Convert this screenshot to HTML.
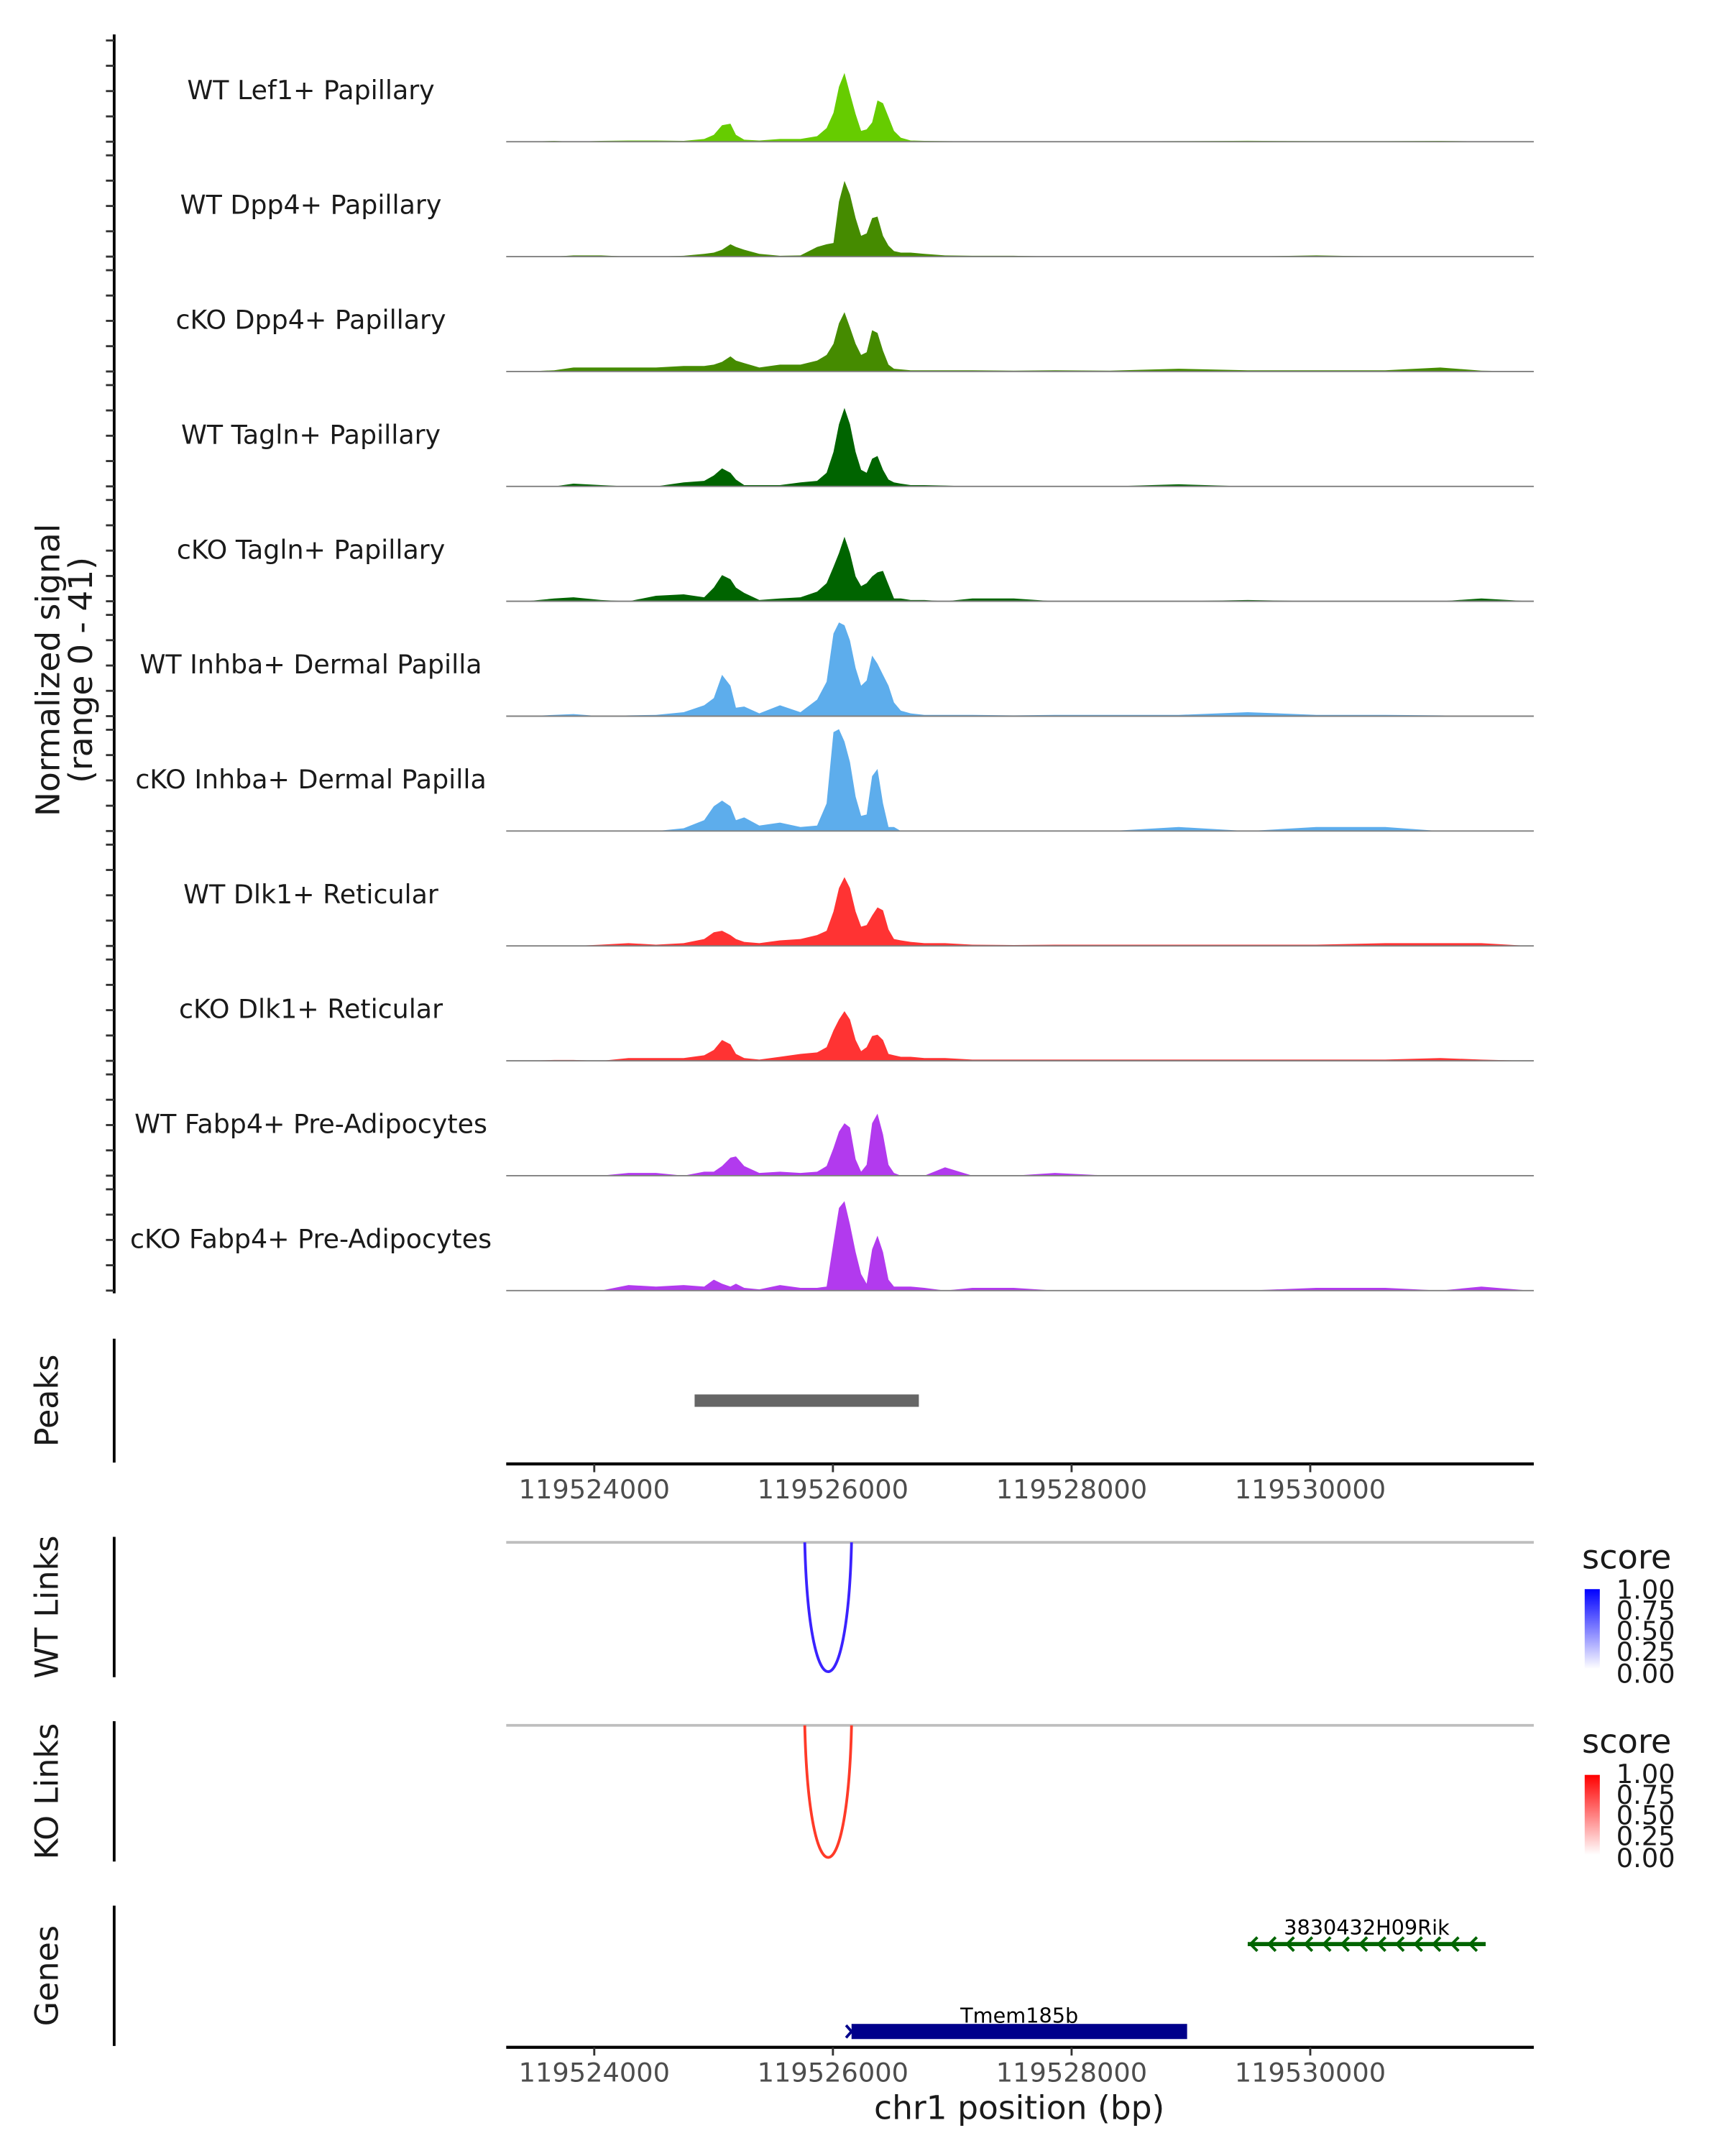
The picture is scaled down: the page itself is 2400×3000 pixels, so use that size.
<!DOCTYPE html>
<html><head><meta charset="utf-8"><style>
html,body{margin:0;padding:0;background:#fff;}
svg{display:block;}
text{font-family:"DejaVu Sans","Liberation Sans",sans-serif;}
</style></head>
<body>
<svg id="fig" width="2400" height="3000" viewBox="0 0 1254 1567" preserveAspectRatio="none" xmlns="http://www.w3.org/2000/svg">
  <g id="tracks"></g>
  <text transform="translate(43,487) rotate(-90)" text-anchor="middle" font-size="23.8" fill="#1a1a1a">Normalized signal</text>
  <text transform="translate(67,487) rotate(-90)" text-anchor="middle" font-size="23.8" fill="#1a1a1a">(range 0 - 41)</text>

  <text transform="translate(42,1018) rotate(-90)" text-anchor="middle" font-size="23.2" fill="#1a1a1a">Peaks</text>
  <line x1="83" y1="973" x2="83" y2="1063" stroke="#000" stroke-width="2"/>
  <g id="peaks"></g>
  <g id="xaxis1"></g>

  <text transform="translate(42,1168) rotate(-90)" text-anchor="middle" font-size="23.2" fill="#1a1a1a">WT Links</text>
  <line x1="83" y1="1117" x2="83" y2="1219" stroke="#000" stroke-width="2"/>
  <text transform="translate(42,1302) rotate(-90)" text-anchor="middle" font-size="23.2" fill="#1a1a1a">KO Links</text>
  <line x1="83" y1="1251" x2="83" y2="1353" stroke="#000" stroke-width="2"/>
  <g id="links"></g>

  <defs>
    <linearGradient id="gBlue" x1="0" y1="1" x2="0" y2="0"><stop offset="0" stop-color="#ffffff"/><stop offset="1" stop-color="#0000ff"/></linearGradient>
    <linearGradient id="gRed" x1="0" y1="1" x2="0" y2="0"><stop offset="0" stop-color="#ffffff"/><stop offset="1" stop-color="#ff0000"/></linearGradient>
  </defs>
  <g>
    <text x="1150" y="1140" font-size="24.2" fill="#1a1a1a">score</text>
    <rect x="1152" y="1155" width="11" height="58" fill="url(#gBlue)"/>
    <g font-size="19.2" fill="#1a1a1a"><text x="1175" y="1162">1.00</text><text x="1175" y="1177">0.75</text><text x="1175" y="1192">0.50</text><text x="1175" y="1207">0.25</text><text x="1175" y="1223">0.00</text></g>
  </g>
  <g>
    <text x="1150" y="1274" font-size="24.2" fill="#1a1a1a">score</text>
    <rect x="1152" y="1290" width="11" height="58" fill="url(#gRed)"/>
    <g font-size="19.2" fill="#1a1a1a"><text x="1175" y="1296">1.00</text><text x="1175" y="1311">0.75</text><text x="1175" y="1326">0.50</text><text x="1175" y="1341">0.25</text><text x="1175" y="1357">0.00</text></g>
  </g>

  <text transform="translate(42,1436) rotate(-90)" text-anchor="middle" font-size="23.2" fill="#1a1a1a">Genes</text>
  <line x1="83" y1="1385" x2="83" y2="1487" stroke="#000" stroke-width="2"/>
  <g id="genes"></g>
  <g id="xaxis2"></g>
  <text x="741" y="1540" text-anchor="middle" font-size="23.8" fill="#1a1a1a">chr1 position (bp)</text>
</svg>
<script>
// positions in kb relative to chr1:119,520,000
const positions = [3.423,3.665,3.826,4.057,4.287,4.518,4.749,4.921,5.002,5.071,5.141,5.187,5.256,5.383,5.556,5.728,5.867,5.947,6.005,6.051,6.097,6.143,6.190,6.236,6.282,6.328,6.374,6.420,6.466,6.512,6.570,6.651,6.766,6.939,7.169,7.515,7.861,8.322,8.898,9.475,10.051,10.628,11.089,11.434,11.839];
const trackNames = ["WT Lef1+ Papillary","WT Dpp4+ Papillary","cKO Dpp4+ Papillary","WT Tagln+ Papillary","cKO Tagln+ Papillary","WT Inhba+ Dermal Papilla","cKO Inhba+ Dermal Papilla","WT Dlk1+ Reticular","cKO Dlk1+ Reticular","WT Fabp4+ Pre-Adipocytes","cKO Fabp4+ Pre-Adipocytes"];
const trackColors = ["#66CC00","#458B00","#458B00","#006400","#006400","#5DADEC","#5DADEC","#FF3333","#FF3333","#B23AEE","#B23AEE"];
const sigWtLef1 = [0,0.3,0,0.3,0.5,0.5,0.3,1.1,2.7,6.5,7.1,2.7,0.8,0.5,1.1,1.1,2.2,5.4,11.4,21.7,27.2,19,10.9,4.3,4.9,7.6,16.3,15.2,9.8,4.3,1.6,0.5,0.3,0.2,0.1,0.1,0.1,0.1,0.2,0.4,0.2,0.2,0.3,0.1,0];
const sigWtDpp4 = [0,0,0.5,0.5,0,0,0.3,1.1,1.6,2.7,4.9,3.8,2.7,1.1,0.3,0.5,3.8,4.9,5.4,21.7,29.9,24.5,15.2,8.2,9.2,15.2,15.8,8.2,4.3,2.2,1.6,1.6,1.1,0.5,0.3,0.3,0,0,0,0,0.5,0,0,0,0];
const sigKoDpp4 = [0,0.5,1.6,1.6,1.6,1.6,2.2,2.2,2.7,3.8,6,4.3,3.3,1.6,2.7,2.7,4.3,6.5,10.9,19,23.4,17.4,10.9,6.5,7.6,16.3,15.2,8.2,2.7,1.1,0.8,0.5,0.5,0.5,0.5,0.3,0.5,0.3,1.1,0.5,0.5,0.5,1.6,0.3,0];
const sigWtTagln = [0,0,1.1,0.5,0,0,1.6,2.2,4.3,7.1,5.4,2.7,0.5,0.5,0.5,1.6,2.2,5.4,13.6,24.5,31,24.5,13.6,6.5,5.4,10.9,12,6.5,2.7,1.6,1.1,0.5,0.5,0.3,0,0,0,0,0.8,0,0,0,0,0,0];
const sigKoTagln = [0,1.1,1.6,0.5,0,2.2,2.7,1.6,5.4,10.3,8.7,5.4,3.3,0.5,1.1,1.6,3.8,7.1,13.6,19,25.5,19,9.8,6,7.1,9.8,11.4,12,6.5,1.1,1.1,0.5,0.5,0,1.1,1.1,0,0,0,0.5,0,0,0,1.1,0];
const sigWtInhba = [0,0.5,0.8,0,0.3,0.5,1.6,4.3,7.1,16.3,12,3.3,3.8,1.1,4.3,1.6,6.5,13.6,32.6,37,35.9,29.9,19,12,14.1,23.9,20.7,16.3,12,5.4,2.2,1.1,0.5,0.5,0.5,0.3,0.5,0.5,0.5,1.6,0.5,0.5,0.3,0,0];
const sigKoInhba = [0,0,0,0,0,0,1.1,4.3,9.8,12,9.8,4.3,5.4,2.2,3.3,1.6,2.2,10.9,39.1,40.2,35.3,27.2,13.6,6,6.5,21.7,24.5,10.9,1.6,1.6,0,0,0,0,0,0,0,0,1.6,0,1.6,1.6,0,0,0];
const sigWtDlk1 = [0,0,0,0.5,1.1,0.5,1.1,2.7,5.4,6,4.3,2.7,1.6,1.1,2.2,2.7,4.3,6,13.6,22.8,27.2,22.8,13.6,7.6,8.2,12,15.2,14.1,6.5,2.7,2.2,1.6,1.1,1.1,0.5,0.3,0.5,0.5,0.5,0.5,0.5,1.1,1.1,1.1,0];
const sigKoDlk1 = [0,0.3,0.3,0,1.1,1.1,1.1,2.2,4.3,8.2,6.5,2.7,1.1,0.5,1.6,2.7,3.3,5.4,12,16.3,19.6,16.3,8.2,3.8,5.4,9.8,10.3,8.2,2.7,2.2,1.6,1.6,1.1,1.1,0.5,0.5,0.5,0.5,0.5,0.5,0.5,0.5,1.1,0.5,0];
const sigWtFabp4 = [0,0,0,0,1.1,1.1,0,1.6,1.6,3.8,7.1,7.6,3.8,1.1,1.6,1.1,1.6,3.8,10.9,17.4,20.7,19,6.5,1.6,4.3,20.7,24.5,16.3,4.3,1.1,0,0,0,3.3,0,0,1.1,0,0,0,0,0,0,0,0];
const sigKoFabp4 = [0,0,0,0,2.2,1.6,2.2,1.6,4.3,2.7,1.6,2.7,1.1,0.5,2.2,1.1,1.1,1.6,19,32.6,35.3,26.1,15.2,6.5,2.7,16.3,21.7,15.2,4.3,1.6,1.6,1.6,1.1,0,1.1,1.1,0,0,0,0,1.1,1.1,0,1.6,0];
const xTicks = [4, 6, 8, 10];
const xTickLabels = ["119524000","119526000","119528000","119530000"];
const peakStart = [4.841];
const peakEnd = [6.720];
const linkStart = [5.764];
const linkEnd = [6.156];
const geneNames = ["Tmem185b","3830432H09Rik"];
const geneStart = [6.156, 9.476];
const geneEnd = [8.968, 11.470];

const series = [sigWtLef1,sigWtDpp4,sigKoDpp4,sigWtTagln,sigKoTagln,sigWtInhba,sigKoInhba,sigWtDlk1,sigKoDlk1,sigWtFabp4,sigKoFabp4];
const NS = "http://www.w3.org/2000/svg";
const X0 = 368, X1 = 1115;
function xScale(kb){ return 432 + (kb - 4) * 86.75; }
const pxPerUnit = 1.84;
function yScale(v, base){ return base - v * pxPerUnit; }
function mk(tag, attrs, parent){ const e = document.createElementNS(NS, tag); for (const k in attrs) e.setAttribute(k, attrs[k]); parent.appendChild(e); return e; }

const tg = document.getElementById('tracks');
const axis = mk('line', {x1:83,y1:25,x2:83,y2:940,stroke:'#000','stroke-width':2}, tg);


series.forEach((vals, i) => {
  const base = 103 + i * 83.5;
  for (let k = 0; k <= 4; k++) {
    const t = mk('line', {x1:77,x2:83,y1:yScale(k*10, base),y2:yScale(k*10, base),stroke:'#333','stroke-width':1.5}, tg);
    
    
  }
  const lab = mk('text', {x:226,y:base-31,'text-anchor':'middle','font-size':19,fill:'#1a1a1a'}, tg);
  lab.textContent = trackNames[i];
  
  
  let d = 'M' + xScale(positions[0]) + ',' + base;
  vals.forEach((v, j) => { d += ' L' + xScale(positions[j]).toFixed(1) + ',' + yScale(v, base).toFixed(1); });
  d += ' L' + xScale(positions[positions.length-1]) + ',' + base + ' Z';
  const area = mk('path', {d:d, fill:trackColors[i]}, tg);
  
  
  const bl = mk('line', {x1:X0,x2:X1,y1:base,y2:base,stroke:'#808080','stroke-width':1}, tg);
  
  
});

const pg = document.getElementById('peaks');
peakStart.forEach((s, i) => {
  const r = mk('rect', {x:xScale(s), y:1013.5, width:xScale(peakEnd[i])-xScale(s), height:9, fill:'#666666'}, pg);
  
  
});

function xAxis(gid, y){
  const g = document.getElementById(gid);
  const l = mk('line', {x1:X0,x2:X1,y1:y,y2:y,stroke:'#000','stroke-width':2.2}, g);
  
  
  xTicks.forEach((t, i) => {
    const tk = mk('line', {x1:xScale(t),x2:xScale(t),y1:y,y2:y+6,stroke:'#333','stroke-width':1.5}, g);
    
    
    const tx = mk('text', {x:xScale(t),y:y+25,'text-anchor':'middle','font-size':19.2,fill:'#4d4d4d'}, g);
    tx.textContent = xTickLabels[i];
    
    
  });
}
xAxis('xaxis1', 1064);
xAxis('xaxis2', 1488);

const lg = document.getElementById('links');
[[1121,1215,'#3a22ff'],[1254,1350,'#ff3a28']].forEach(([top, bot, col]) => {
  const gl = mk('line', {x1:X0,x2:X1,y1:top,y2:top,stroke:'#bebebe','stroke-width':2}, lg);
  
  
  linkStart.forEach((s, i) => {
    const a = xScale(s), b = xScale(linkEnd[i]);
    const cy = (bot - 0.25 * top) / 0.75;
    const p = mk('path', {d:`M${a},${top} C${a+3},${cy} ${b-3},${cy} ${b},${top}`, fill:'none', stroke:col, 'stroke-width':2}, lg);
    
    
  });
});

const gg = document.getElementById('genes');
{
  const a = xScale(geneStart[0]), b = xScale(geneEnd[0]);
  const r = mk('rect', {x:a, y:1471, width:b-a, height:11, fill:'#00008B'}, gg);
  
  
  const m = mk('path', {d:`M${a-4},1472 L${a},1476.5 L${a-4},1481`, fill:'none', stroke:'#00008B','stroke-width':2}, gg);
  
  
  const t = mk('text', {x:(a+b)/2, y:1470, 'text-anchor':'middle', 'font-size':15, fill:'#000'}, gg);
  t.textContent = geneNames[0];
  
  
}
{
  const a = xScale(geneStart[1]), b = xScale(geneEnd[1]);
  const l = mk('line', {x1:a, x2:b, y1:1413, y2:1413, stroke:'#006400', 'stroke-width':3}, gg);
  
  
  for (let x = a + 2; x < b - 4; x += 13.3) {
    const c = mk('path', {d:`M${x+5},1408 L${x},1413 L${x+5},1418`, fill:'none', stroke:'#006400', 'stroke-width':2}, gg);
    
    
  }
  const t = mk('text', {x:(a+b)/2, y:1406, 'text-anchor':'middle', 'font-size':15, fill:'#000'}, gg);
  t.textContent = geneNames[1];
  
  
}
</script>
</body></html>
